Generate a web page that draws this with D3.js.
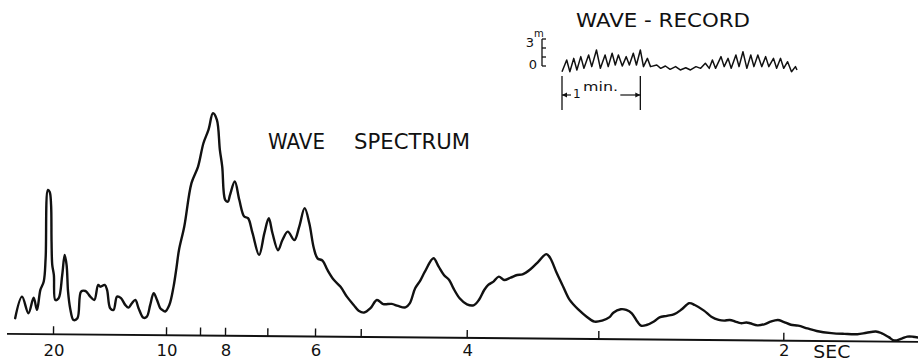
<!DOCTYPE html>
<html><head><meta charset="utf-8">
<script src="https://cdn.jsdelivr.net/npm/d3@7"></script>
<style>html,body{margin:0;padding:0;background:#fff;} svg{display:block;}</style>
</head><body>
<svg id="chart" width="918" height="361"></svg>
<script>
// ---- DATA ----
// Wave spectrum: wave period (s) and relative spectral density (main peak = 100)
const specPeriod = [23.36,22.77,22.19,21.74,21.44,21.15,20.86,20.71,20.56,20.40,
 20.27,20.20,20.12,19.97,19.82,19.53,19.23,19.03,18.85,18.70,
 18.50,18.20,17.85,17.55,17.17,16.96,16.73,16.37,16.04,15.84,
 15.46,15.25,14.96,14.66,14.36,14.01,13.63,13.34,13.04,12.74,
 12.45,12.01,11.71,11.42,11.12,10.82,10.53,10.40,10.09,9.91,
 9.79,9.71,9.64,9.49,9.29,9.10,8.93,8.73,8.56,8.40,
 8.27,8.17,8.04,7.96,7.91,7.80,7.69,7.57,7.48,7.37,
 7.21,7.09,6.99,6.91,6.79,6.70,6.59,6.45,6.35,6.24,
 6.14,6.04,5.96,5.85,5.74,5.60,5.45,5.31,5.16,5.05,
 4.97,4.91,4.85,4.79,4.71,4.65,4.58,4.54,4.49,4.44,
 4.40,4.32,4.27,4.22,4.17,4.13,4.07,4.00,3.95,3.91,
 3.87,3.84,3.80,3.76,3.72,3.67,3.62,3.58,3.52,3.46,
 3.40,3.37,3.32,3.27,3.22,3.15,3.09,3.03,2.98,2.94,
 2.92,2.88,2.85,2.82,2.79,2.77,2.74,2.70,2.67,2.63,
 2.59,2.55,2.51,2.48,2.43,2.39,2.35,2.32,2.29,2.26,
 2.23,2.20,2.18,2.14,2.10,2.07,2.03,2.00,1.96,1.92,
 1.87,1.82,1.74,1.67,1.60,1.55,1.50,1.47,1.43,1.40,
 1.36,1.33,1.30,1.27];
const specDensity = [7.1,16.8,9.4,16.4,10.9,19.9,23.7,34.3,64.9,64.0,
 58.2,41.7,31.2,26.7,15.4,16.2,26.7,35.7,31.2,19.2,
 11.7,6.5,7.3,19.3,19.6,18.6,17.1,15.6,22.4,21.6,
 22.4,20.2,11.9,11.2,17.2,16.5,13.5,12.3,14.3,15.8,
 12.1,7.8,8.3,13.6,18.9,15.8,12.1,11.6,10.7,13.6,
 21.9,30.3,38.4,49.0,68.5,76.0,86.5,92.6,100,97.1,
 83.6,76.1,61.1,60.3,63.4,69.4,61.2,53.7,53.0,46.3,
 36.5,46.3,53.0,46.3,38.7,43.3,47.1,43.3,49.4,57.7,
 50.9,39.7,35.2,34.2,30.0,25.6,22.5,18.1,14.4,11.8,
 11.0,13.0,16.7,14.9,15.0,14.1,13.5,15.3,22.1,25.8,
 29.6,35.7,31.9,28.2,26.0,22.3,17.8,15.1,14.7,17.1,
 21.6,23.9,25.4,27.7,26.2,27.3,28.5,28.8,31.1,34.6,
 38.0,36.2,29.5,23.4,17.5,13.0,10.0,7.8,8.3,9.9,
 11.9,13.5,13.2,11.7,8.0,6.2,6.5,8.1,10.0,10.7,
 11.5,13.7,16.5,15.7,13.2,10.5,9.1,8.8,9.1,8.4,
 7.7,8.0,7.7,6.8,7.4,8.5,9.3,8.5,7.2,6.8,
 5.6,4.5,3.6,3.3,3.2,3.9,4.5,3.8,2.0,0.5,
 1.4,2.3,2.3,1.9];
const tickPeriods = [20,10,9,8,7,6,5,4,3,2];
const tickLabels  = ["20","10","","8","","6","","4","","2"];
const axisUnit = "SEC";
const titleWords = ["WAVE","SPECTRUM"];

// Inset wave record: time (min) and surface elevation (m)
const recordTime = [0.00,0.06,0.10,0.15,0.19,0.24,0.28,0.34,0.38,0.44,
 0.49,0.55,0.59,0.64,0.68,0.72,0.77,0.82,0.86,0.91,
 0.95,1.00,1.04,1.09,1.13,1.21,1.26,1.32,1.38,1.45,
 1.51,1.58,1.64,1.71,1.77,1.83,1.88,1.92,1.96,2.03,
 2.07,2.12,2.16,2.22,2.26,2.31,2.36,2.41,2.45,2.50,
 2.55,2.60,2.64,2.70,2.74,2.79,2.83,2.88,2.93,2.98,3.00];
const recordHeight = [-0.63,0.67,-0.63,0.85,-0.44,1.04,-0.26,1.22,-0.07,1.78,
 -0.26,1.22,-0.07,1.41,0.11,1.22,0.00,1.04,0.11,1.41,
 0.11,1.78,-0.07,0.85,-0.07,0.11,-0.26,0.00,-0.37,-0.07,
 -0.44,-0.19,-0.44,-0.07,-0.26,0.30,-0.26,0.67,-0.26,1.04,
 -0.07,0.85,-0.26,1.22,-0.07,1.59,-0.26,1.22,-0.07,1.22,
 -0.07,1.04,-0.07,0.85,-0.26,0.85,-0.26,0.48,-0.63,-0.07,-0.44];
const recordTitle = "WAVE - RECORD";
const recordScaleTicks = [0,1,2,3];
const recordTopLabel = "3", recordUnit = "m", recordZeroLabel = "0";
const recordBarMinutes = [0,1];
const recordBarLabel = ["1","min."];

// ---- DRAWING ----
const W = 918, H = 361, ink = "#111";
const FONT = "'DejaVu Sans','Liberation Sans',sans-serif";
const svg = d3.select("#chart");
svg.append("rect").attr("width", W).attr("height", H).attr("fill", "#fff");

const axisY = 334.3;
const x = d3.scaleLinear().domain(tickPeriods)
  .range([53,166,200,225,267.3,315,360.7,466.7,598.3,783.3]);
const y = d3.scaleLinear().domain([0,100]).range([axisY, axisY - 222.4]);

const plot = svg.append("g").attr("transform", `rotate(0.5 53 ${axisY})`);
plot.append("line").attr("x1", 7).attr("x2", 930).attr("y1", axisY).attr("y2", axisY)
  .attr("stroke", ink).attr("stroke-width", 1.9);
const axis = d3.axisBottom(x).tickValues(tickPeriods).tickFormat("")
  .tickSizeInner(-8).tickSizeOuter(0);
const ag = plot.append("g").attr("transform", `translate(0,${axisY})`).call(axis);
ag.select(".domain").remove();
ag.selectAll(".tick line").attr("stroke", ink).attr("stroke-width", 1.4);

const specData = specPeriod.map((p, i) => ({p, v: specDensity[i]}));
plot.append("path").datum(specData)
  .attr("d", d3.line().x(d => x(d.p)).y(d => y(d.v)).curve(d3.curveCatmullRom.alpha(0.5)))
  .attr("fill", "none").attr("stroke", ink).attr("stroke-width", 2.4)
  .attr("stroke-linejoin", "round").attr("stroke-linecap", "round");

// tick labels
const lab = svg.append("g").attr("font-family", FONT).attr("fill", ink);
lab.selectAll("text.tl").data(tickPeriods.map((p, i) => ({p, t: tickLabels[i]})).filter(d => d.t))
  .join("text").attr("class", "tl")
  .attr("x", d => x(d.p) + 1).attr("y", 355.5)
  .attr("text-anchor", "middle").attr("font-size", 16.5).text(d => d.t);
lab.append("text").attr("x", x(2) + 30).attr("y", 358)
  .attr("font-size", 17).attr("textLength", 37).attr("lengthAdjust", "spacingAndGlyphs")
  .text(axisUnit);

// title
lab.append("text").attr("x", 268).attr("y", 149).attr("font-size", 21)
  .attr("textLength", 57).attr("lengthAdjust", "spacingAndGlyphs").text(titleWords[0]);
lab.append("text").attr("x", 354).attr("y", 149).attr("font-size", 21)
  .attr("textLength", 116).attr("lengthAdjust", "spacingAndGlyphs").text(titleWords[1]);

// ---- inset wave record ----
const ix = d3.scaleLinear().domain([0, 3]).range([562, 797]);
const iy = d3.scaleLinear().domain([0, 3]).range([66, 39]);
const inset = svg.append("g");
inset.append("text").attr("x", 576).attr("y", 27).attr("font-family", FONT)
  .attr("font-size", 19).attr("textLength", 174).attr("lengthAdjust", "spacingAndGlyphs")
  .attr("fill", ink).text(recordTitle);

inset.append("path")
  .datum(recordTime.map((t, i) => ({t, h: recordHeight[i]})))
  .attr("d", d3.line().x(d => ix(d.t)).y(d => iy(d.h)))
  .attr("fill", "none").attr("stroke", ink).attr("stroke-width", 1.5)
  .attr("stroke-linejoin", "round");

// height scale bar
const sbx = 542;
inset.append("line").attr("x1", sbx).attr("x2", sbx).attr("y1", iy(0)).attr("y2", iy(3))
  .attr("stroke", ink).attr("stroke-width", 1.3);
inset.selectAll("line.sbt").data(recordScaleTicks).join("line").attr("class", "sbt")
  .attr("x1", sbx).attr("x2", sbx + 4).attr("y1", d => iy(d)).attr("y2", d => iy(d))
  .attr("stroke", ink).attr("stroke-width", 1.3);
inset.append("text").attr("x", 534).attr("y", iy(3) + 8).attr("text-anchor", "end")
  .attr("font-family", FONT).attr("font-size", 13).attr("fill", ink).text(recordTopLabel);
inset.append("text").attr("x", 534).attr("y", iy(3) - 2)
  .attr("font-family", FONT).attr("font-size", 10).attr("fill", ink).text(recordUnit);
inset.append("text").attr("x", 537).attr("y", iy(0) + 3).attr("text-anchor", "end")
  .attr("font-family", FONT).attr("font-size", 13).attr("fill", ink).text(recordZeroLabel);

// 1 minute bracket
const bx0 = ix(recordBarMinutes[0]), bx1 = ix(recordBarMinutes[1]), by = 95;
[bx0, bx1].forEach(bx => inset.append("line").attr("x1", bx).attr("x2", bx)
  .attr("y1", 76).attr("y2", 110).attr("stroke", ink).attr("stroke-width", 1.3));
inset.append("line").attr("x1", bx0).attr("x2", bx0 + 9).attr("y1", by).attr("y2", by)
  .attr("stroke", ink).attr("stroke-width", 1.2);
inset.append("line").attr("x1", bx1 - 20).attr("x2", bx1).attr("y1", by).attr("y2", by)
  .attr("stroke", ink).attr("stroke-width", 1.2);
inset.append("path").attr("d", `M${bx0+5},${by-2.5}L${bx0},${by}L${bx0+5},${by+2.5}Z`).attr("fill", ink);
inset.append("path").attr("d", `M${bx1-5},${by-2.5}L${bx1},${by}L${bx1-5},${by+2.5}Z`).attr("fill", ink);
inset.append("text").attr("x", bx0 + 11).attr("y", 98).attr("font-family", FONT)
  .attr("font-size", 12).attr("fill", ink).text(recordBarLabel[0]);
inset.append("text").attr("x", bx0 + 21).attr("y", 91).attr("font-family", FONT)
  .attr("font-size", 12).attr("textLength", 35).attr("lengthAdjust", "spacingAndGlyphs")
  .attr("fill", ink).text(recordBarLabel[1]);
</script>
</body></html>
